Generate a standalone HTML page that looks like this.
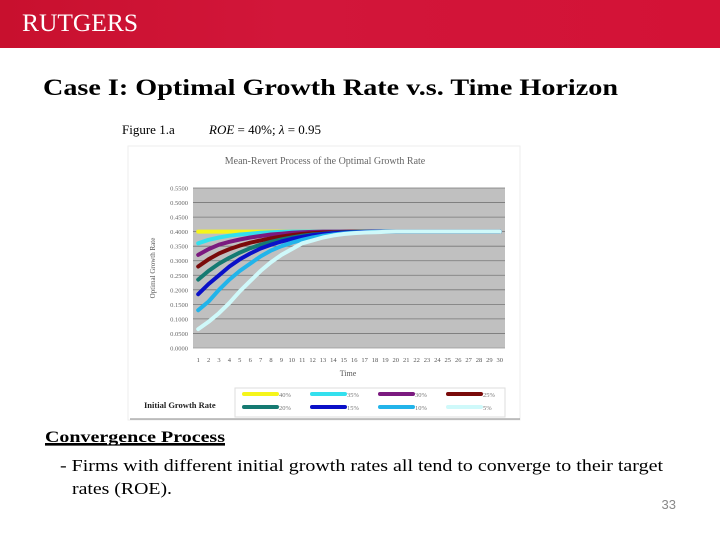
<!DOCTYPE html>
<html><head><meta charset="utf-8"><style>
html,body{margin:0;padding:0;width:720px;height:540px;overflow:hidden;background:#fff}
svg{display:block}
text{font-family:"Liberation Serif",serif}
</style></head><body>
<svg id="s" width="720" height="540" viewBox="0 0 720 540">
<defs><linearGradient id="hg" x1="0" x2="1"><stop offset="0" stop-color="#c8102e"/><stop offset="0.4" stop-color="#d2163a"/><stop offset="1" stop-color="#d31236"/></linearGradient></defs>
<rect x="0" y="0" width="720" height="48" fill="url(#hg)"/>
<text x="22" y="31" font-size="25" fill="#fff" textLength="116" lengthAdjust="spacingAndGlyphs">RUTGERS</text>
<text x="43" y="95" font-size="23" font-weight="bold" fill="#000" textLength="575" lengthAdjust="spacingAndGlyphs">Case I: Optimal Growth Rate v.s. Time Horizon</text>
<text x="122" y="134" font-size="13" fill="#000">Figure 1.a</text>
<text x="209" y="134" font-size="13" font-style="italic" fill="#000">ROE <tspan font-style="normal">= 40%;</tspan>  λ <tspan font-style="normal">= 0.95</tspan></text>
<rect x="128" y="146" width="392" height="274" fill="#fff" stroke="#eee"/>
<text x="325" y="164" font-size="10" fill="#666" text-anchor="middle">Mean-Revert Process of the Optimal Growth Rate</text>
<g id="plot"></g>
<text x="348" y="376" font-size="8" fill="#555" text-anchor="middle">Time</text>
<text transform="translate(155,268) rotate(-90)" font-size="7" fill="#555" text-anchor="middle">Optimal Growth Rate</text>
<text x="144" y="408" font-size="8.5" font-weight="bold" fill="#222">Initial Growth Rate</text>
<rect x="235" y="388" width="270" height="29" fill="#fff" stroke="#ddd"/>
<g id="legend"></g>
<line x1="130" y1="419" x2="520" y2="419" stroke="#888" stroke-width="1"/>
<text x="45" y="442" font-size="16" font-weight="bold" fill="#000" text-decoration="underline" textLength="180" lengthAdjust="spacingAndGlyphs">Convergence Process</text>
<line x1="45" y1="445" x2="225" y2="445" stroke="#000" stroke-width="1.2"/>
<text x="60" y="471" font-size="17" fill="#000" textLength="603" lengthAdjust="spacingAndGlyphs">- Firms with different initial growth rates all tend to converge to their target</text>
<text x="72" y="494" font-size="17" fill="#000" textLength="100" lengthAdjust="spacingAndGlyphs">rates (ROE).</text>
<text x="676" y="509" font-size="13" fill="#888" text-anchor="end" style="font-family:'Liberation Sans',sans-serif">33</text>
</svg>
<script>
const times=[1,2,3,4,5,6,7,8,9,10,11,12,13,14,15,16,17,18,19,20,21,22,23,24,25,26,27,28,29,30];
const yTicks=[0,0.05,0.1,0.15,0.2,0.25,0.3,0.35,0.4,0.45,0.5,0.55];
const seriesNames=["40%","35%","30%","25%","20%","15%","10%","5%"];
const seriesColors=["#f5f51a","#33e0ee","#7b1a7f","#7a0a0a","#157a72","#0a10c8","#22b4ea","#cff9fa"];
const s40=[0.4,0.4,0.4,0.4,0.4,0.4,0.4,0.4,0.4,0.4,0.4,0.4,0.4,0.4,0.4,0.4,0.4,0.4,0.4,0.4,0.4,0.4,0.4,0.4,0.4,0.4,0.4,0.4,0.4,0.4];
const s35=[0.36,0.372,0.38,0.386,0.39,0.393,0.396,0.398,0.399,0.4,0.4,0.4,0.4,0.4,0.4,0.4,0.4,0.4,0.4,0.4,0.4,0.4,0.4,0.4,0.4,0.4,0.4,0.4,0.4,0.4];
const s30=[0.32,0.34,0.355,0.365,0.373,0.38,0.385,0.39,0.393,0.396,0.398,0.399,0.4,0.4,0.4,0.4,0.4,0.4,0.4,0.4,0.4,0.4,0.4,0.4,0.4,0.4,0.4,0.4,0.4,0.4];
const s25=[0.28,0.305,0.325,0.34,0.352,0.362,0.37,0.377,0.383,0.388,0.392,0.395,0.397,0.398,0.399,0.4,0.4,0.4,0.4,0.4,0.4,0.4,0.4,0.4,0.4,0.4,0.4,0.4,0.4,0.4];
const s20=[0.235,0.265,0.29,0.31,0.328,0.343,0.355,0.365,0.373,0.38,0.386,0.39,0.393,0.396,0.398,0.399,0.4,0.4,0.4,0.4,0.4,0.4,0.4,0.4,0.4,0.4,0.4,0.4,0.4,0.4];
const s15=[0.185,0.22,0.25,0.28,0.305,0.325,0.342,0.355,0.366,0.375,0.382,0.388,0.392,0.395,0.397,0.398,0.399,0.4,0.4,0.4,0.4,0.4,0.4,0.4,0.4,0.4,0.4,0.4,0.4,0.4];
const s10=[0.13,0.16,0.2,0.235,0.265,0.29,0.315,0.335,0.35,0.362,0.372,0.38,0.386,0.39,0.394,0.396,0.398,0.399,0.4,0.4,0.4,0.4,0.4,0.4,0.4,0.4,0.4,0.4,0.4,0.4];
const s05=[0.065,0.09,0.12,0.155,0.195,0.23,0.265,0.295,0.32,0.34,0.36,0.37,0.38,0.387,0.392,0.395,0.397,0.398,0.399,0.4,0.4,0.4,0.4,0.4,0.4,0.4,0.4,0.4,0.4,0.4];
const allSeries=[s40,s35,s30,s25,s20,s15,s10,s05];

const NS="http://www.w3.org/2000/svg";
const X0=193,X1=505,Y0=348,Y1=188,YMAX=0.55;
const bw=(X1-X0)/times.length;
function xs(i){return X0+bw*(i+0.5);}
function ys(v){return Y0-(v/YMAX)*(Y0-Y1);}
function mk(tag,attrs,parent){const e=document.createElementNS(NS,tag);for(const k in attrs)e.setAttribute(k,attrs[k]);parent.appendChild(e);return e;}
const plot=document.getElementById('plot');
const bg=mk('rect',{x:X0,y:Y1,width:X1-X0,height:Y0-Y1,fill:'#c0c0c0'},plot);


yTicks.forEach(t=>{
  const y=ys(t);
  const gl=mk('line',{x1:X0,x2:X1,y1:y,y2:y,stroke:t===0?'#999':'#777','stroke-width':0.8},plot);
  
  
  const tl=mk('text',{x:X0-5,y:y+2.5,'font-size':6.5,fill:'#666','text-anchor':'end'},plot);
  tl.textContent=t.toFixed(4);
  
  
});
times.forEach((t,i)=>{
  const tl=mk('text',{x:xs(i),y:362,'font-size':6.5,fill:'#555','text-anchor':'middle'},plot);
  tl.textContent=t;
  
  
});
allSeries.forEach((s,k)=>{
  const d=s.map((v,i)=>(i?'L':'M')+xs(i).toFixed(1)+' '+ys(v).toFixed(1)).join(' ');
  const p=mk('path',{d:d,fill:'none',stroke:seriesColors[k],'stroke-width':4,'stroke-linecap':'round','stroke-linejoin':'round'},plot);
  
  
});
const lg=document.getElementById('legend');
seriesNames.forEach((n,k)=>{
  const col=k%4,row=Math.floor(k/4);
  const lx=244+col*68,ly=394+row*13;
  const ln=mk('line',{x1:lx,x2:lx+33,y1:ly,y2:ly,stroke:seriesColors[k],'stroke-width':4,'stroke-linecap':'round'},lg);
  
  
  const tx=mk('text',{x:lx+35,y:ly+3,'font-size':6.5,fill:'#777'},lg);
  tx.textContent=n;
  
  
});
</script>
</body></html>
